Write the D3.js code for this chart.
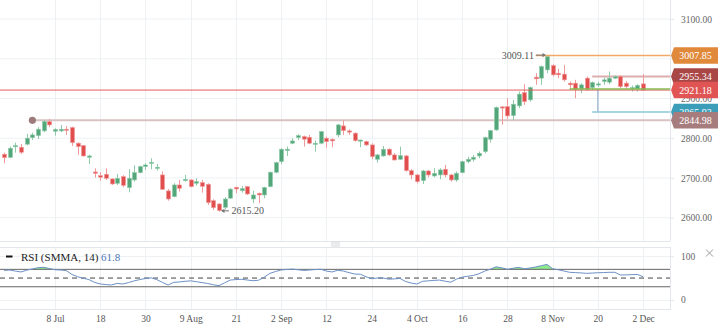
<!DOCTYPE html>
<html><head><meta charset="utf-8">
<script src="https://cdn.jsdelivr.net/npm/d3@7"></script>
<style>
html,body{margin:0;padding:0;background:#fff;}
svg{display:block;font-family:"Liberation Serif","Times New Roman",serif;}
</style></head><body>
<svg id="c" width="719" height="327"></svg>
<script>
// ---------------- data ----------------
const opens=[2759.7,2752,2778.5,2777.3,2785,2801.5,2806.5,2818.4,2841.8,2817.6,
2818.4,2822.7,2826.7,2787.4,2781.4,2752.1,2715.1,2705.8,2709.3,2697.5,
2686.6,2703.3,2675.6,2695,2713.4,2728.5,2737,2724.4,2707.6,2667.3,
2652.9,2682.4,2693.2,2695,2686.6,2688.2,2684.1,2642.8,2634.5,2626.2,
2649.2,2676.6,2668,2678.1,2647.1,2661.5,2657.2,2678.1,2714.4,2741,
2768.8,2787.4,2801.5,2804,2802.5,2784.9,2787.4,2800,2797,2808.3,
2831,2818.4,2812.6,2793.5,2791.4,2783.1,2747,2755.4,2772.3,2758,
2747,2755.4,2718.4,2707.6,2693.2,2717.6,2705,2707.6,2722,2707.6,
2695,2713.4,2741,2747,2755.4,2766.5,2797.5,2821,2878.8,2879.6,
2856.9,2881.4,2914.9,2896.5,2953.7,2951.1,2972,2982.9,2963.7,2961.2,
2938.5,2938.5,2924.2,2951.1,2927.5,2934.3,2942.6,2941,2951.1,2955.2,
2938.5,2924.2,2924.2,2936.8];
const highs=[2763.7,2778.8,2788.9,2785.6,2811,2814,2827.7,2846,2848.6,2825.2,
2833.5,2831,2829.2,2789.9,2783.1,2758,2724.4,2714.4,2724.4,2699.2,
2710.1,2706.8,2721.9,2732,2731,2737,2749.6,2735.3,2716.3,2672.3,
2686.6,2695,2707.6,2696.7,2699.2,2695,2686.6,2646.3,2636.6,2651.4,
2674.4,2678.1,2679.8,2679.8,2668,2663,2678.1,2716,2741,2774.8,
2778.8,2800,2810,2806.5,2808.3,2794.3,2818.4,2804,2800,2836,
2844.3,2822.7,2815.1,2796,2794,2787.4,2760.5,2780.6,2774.8,2762.2,
2778.8,2758,2722.6,2710,2720.2,2720.2,2724.4,2724.4,2732.7,2710,
2716.3,2743.6,2753.7,2758,2766.5,2804,2820.9,2879.6,2881,2900.8,
2896.5,2917.4,2936,2930,2963.7,2982.9,3009.11,2986.4,2974.6,2984.6,
2942.6,2946.9,2938.5,2955.2,2942.6,2941.9,2952.7,2968,2957.7,2957.7,
2944.3,2932.8,2936,2961.2];
const lows=[2737,2749.6,2763.7,2760.4,2782,2795.7,2798,2815,2827.7,2806.5,
2815,2808.3,2780.6,2758,2753.7,2735.3,2700.8,2693.2,2695,2682.4,
2682.4,2676.6,2664,2690.7,2711.8,2720,2721.9,2718.8,2669.8,2642.8,
2651.4,2665.5,2690.7,2676.6,2680.9,2663,2632,2619.4,2615.2,2621,
2647.1,2661.5,2663,2657.2,2636.6,2636.6,2649.2,2676.6,2711.8,2734.5,
2755.4,2784.9,2795.7,2778.8,2784.9,2766,2784.9,2776.3,2777.3,2802.5,
2808.3,2808.3,2791.4,2777.3,2780.6,2747,2738.5,2753.7,2755.4,2743.6,
2745.3,2716,2696.7,2686.6,2684.9,2701.8,2701.8,2696.7,2701.8,2690.7,
2690.7,2711.8,2737,2741,2749.6,2762.2,2789,2818.4,2834,2848.6,
2846,2875.6,2883.9,2892.2,2934.3,2934.3,2963.7,2955.2,2951.1,2942.6,
2921.7,2900.8,2913.4,2919,2921.7,2929,2934.3,2936,2949.4,2926,
2924.2,2917.4,2917.4,2921.18];
const closes=[2751,2774.8,2781.5,2764.7,2800,2808.3,2822.7,2841.8,2833.5,2821.7,
2822.7,2820.2,2788.9,2778.8,2755.4,2755.4,2711.8,2701.8,2699.2,2684.9,
2699.2,2681.6,2699.2,2713.4,2728.5,2732.7,2739.5,2727,2671.5,2647.1,
2682.4,2674,2696.7,2678.1,2690.7,2679,2637.8,2625.2,2618,2647.1,
2671.9,2672.3,2673,2659.7,2657.2,2657.2,2675.6,2714.4,2738.5,2772.3,
2772.3,2793.2,2806.5,2797.5,2787.4,2787.4,2816.6,2791.4,2793.2,2833.5,
2819.1,2815.1,2794,2795.5,2783.1,2753.7,2758,2772.3,2758,2745.3,
2756.2,2718.4,2707.6,2690.7,2717.6,2707.6,2711.8,2720.2,2707.6,2695,
2711.8,2741,2747,2752.1,2762.2,2801.5,2819.1,2877,2876.5,2856.2,
2885.6,2910.8,2892.2,2927.5,2949.4,2980.4,3005.5,2959.5,2959.5,2946.9,
2934.3,2923.4,2934.3,2923.4,2940.1,2936.8,2946.9,2951.1,2955.2,2930,
2930,2927.5,2932.8,2921.18];
const rsiValues=[67.5,68.4,66,64,68,71,73.8,74.6,72,69,
68.5,67,58.3,53,49.5,46.5,40,36.5,35,34,
37.8,36.3,39.5,43.5,46.5,49,50.5,46.5,40,34,
40.2,41,42.5,43.6,41.6,39.5,37.5,34.5,32.5,39,
45.4,46.5,47.2,45.5,43.8,45,52,60.8,65,68.6,
69.8,70.6,69,67.5,68.5,69.5,70.2,66,64,68,
66,62.5,59.2,58.8,53,48.5,50,50.2,47.5,48,
49.3,42,38.5,36.2,42.5,43.6,44.6,45.4,42.7,40.5,
47.5,52,54.2,56,60,66,70.5,75.8,73.5,70.2,
72.5,74.5,71.5,73,75.5,78.5,81.3,71.5,69,66.2,
63.2,62.5,61.8,60.8,61.5,62.2,62.6,63.2,63.2,57,
57.3,57.8,58.3,53];
const tickIndex=[9,17,25,33,41,49,57,65,73,81,89,97,105,113];
const tickLabels=["8 Jul","18","30","9 Aug","21","2 Sep","12","24","4 Oct","16","28","8 Nov","20","2 Dec"];
const priceTicks=[2600,2700,2800,2900,3000,3100];
const rsiTicks=[0,100];
const rsiBands=[30,50,70];
// horizontal price levels (value, label, start candle index)
const levelValues=[3007.85,2955.34,2921.18,2865.93,2844.98];
const levelStarts=[94,104,0,104,5];
const greenLevel=2924, greenStart=100;
const highMark={index:96,value:3009.11,label:"3009.11"};
const lowMark={index:38,value:2615.20,label:"2615.20"};
const rsiLegend="RSI (SMMA, 14)", rsiLast="61.8";

// ---------------- layout ----------------
const svg=d3.select("#c");
const W=670, mainBottom=241, rsiTop=247, rsiBottom=309;
const x=d3.scaleLinear().domain([0,opens.length-1]).range([4.1,643.1]);
const y=d3.scaleLinear().domain([2600,3100]).range([217.7,19]);
const yr=d3.scaleLinear().domain([0,100]).range([299.8,256.3]);
const gridC="#eef1f3", borderC="#e3e6ea", textC="#666";

svg.append("rect").attr("width",719).attr("height",327).attr("fill","#fff");
const defs=svg.append("defs");
defs.append("clipPath").attr("id","cm").append("rect").attr("x",0).attr("y",0).attr("width",W).attr("height",mainBottom);
defs.append("clipPath").attr("id","cr").append("rect").attr("x",0).attr("y",rsiTop).attr("width",W).attr("height",rsiBottom-rsiTop);

// grid
const g=svg.append("g");
g.selectAll(".hg").data(priceTicks).join("line").attr("x1",0).attr("x2",W)
 .attr("y1",d=>y(d)).attr("y2",d=>y(d)).attr("stroke",gridC);
g.selectAll(".vg").data(tickIndex).join("line").attr("x1",d=>Math.round(x(d))+.5).attr("x2",d=>Math.round(x(d))+.5)
 .attr("y1",0).attr("y2",mainBottom).attr("stroke",gridC);
g.selectAll(".vg2").data(tickIndex).join("line").attr("x1",d=>Math.round(x(d))+.5).attr("x2",d=>Math.round(x(d))+.5)
 .attr("y1",rsiTop).attr("y2",rsiBottom).attr("stroke",gridC);
g.selectAll(".rg").data(rsiTicks).join("line").attr("x1",0).attr("x2",W)
 .attr("y1",d=>Math.round(yr(d))+.5).attr("y2",d=>Math.round(yr(d))+.5).attr("stroke",gridC);
// borders
g.append("line").attr("x1",W+.5).attr("x2",W+.5).attr("y1",0).attr("y2",mainBottom).attr("stroke",borderC);
g.append("line").attr("x1",0).attr("x2",W).attr("y1",mainBottom+.5).attr("y2",mainBottom+.5).attr("stroke",borderC);
g.append("rect").attr("x",-1).attr("y",rsiTop+.5).attr("width",W+1.5).attr("height",rsiBottom-rsiTop).attr("fill","none").attr("stroke",borderC);
// handle
[242.5,244.5,246.5].forEach(v=>g.append("line").attr("x1",331).attr("x2",340).attr("y1",v-.5).attr("y2",v-.5).attr("stroke","#d4d7db"));

// price axis
const pa=svg.append("g").attr("transform",`translate(${W},0)`)
 .call(d3.axisRight(y).tickValues(priceTicks).tickFormat(d3.format(".2f")).tickSize(4).tickPadding(7));
pa.select(".domain").remove();
pa.selectAll("line").attr("stroke",borderC);
pa.selectAll("text").attr("font-family","Liberation Serif").attr("font-size",9.5).attr("fill",textC);
pa.attr("font-family",null);

// rsi axis
const ra=svg.append("g").attr("transform",`translate(${W},0)`)
 .call(d3.axisRight(yr).tickValues(rsiTicks).tickFormat(d3.format("d")).tickSize(4).tickPadding(7));
ra.select(".domain").remove();
ra.selectAll("line").attr("stroke",borderC);
ra.selectAll("text").attr("font-family","Liberation Serif").attr("font-size",9.5).attr("fill",textC);

// x axis
const xa=svg.append("g").attr("transform",`translate(0,${rsiBottom})`)
 .call(d3.axisBottom(x).tickValues(tickIndex).tickFormat((d,i)=>tickLabels[i]).tickSize(0).tickPadding(6));
xa.select(".domain").remove();
xa.selectAll("text").attr("font-family","Liberation Serif").attr("font-size",9.5).attr("fill","#555");

// ---------------- main panel ----------------
const mp=svg.append("g").attr("clip-path","url(#cm)");
// level lines
const lineCols=["#f2a866","#dcaeae","#e25c5c","#a6d6e3","#d9c2c2"];
const lineW=[1.5,2,1,2,2];
// 2844.98 line + circle first
mp.append("line").attr("x1",x(levelStarts[4])).attr("x2",W).attr("y1",y(levelValues[4])).attr("y2",y(levelValues[4]))
 .attr("stroke",lineCols[4]).attr("stroke-width",lineW[4]);
mp.append("line").attr("x1",x(levelStarts[3])).attr("x2",W).attr("y1",y(levelValues[3])).attr("y2",y(levelValues[3]))
 .attr("stroke",lineCols[3]).attr("stroke-width",lineW[3]);
mp.append("line").attr("x1",x(levelStarts[1])).attr("x2",W).attr("y1",y(levelValues[1])).attr("y2",y(levelValues[1]))
 .attr("stroke",lineCols[1]).attr("stroke-width",lineW[1]);
// vertical range line
mp.append("line").attr("x1",x(levelStarts[3]+1)).attr("x2",x(levelStarts[3]+1))
 .attr("y1",y(greenLevel)).attr("y2",y(levelValues[3])).attr("stroke","#a9bdd6").attr("stroke-width",1.5);

// candles
const cg=mp.append("g");
const idx=d3.range(opens.length);
const up=i=>closes[i]>=opens[i];
cg.selectAll(".w").data(idx).join("line")
 .attr("x1",i=>Math.round(x(i))+.5).attr("x2",i=>Math.round(x(i))+.5)
 .attr("y1",i=>y(highs[i])).attr("y2",i=>y(lows[i]))
 .attr("stroke",i=>up(i)?"#8fcaa9":"#f09a9a").attr("stroke-width",1);
cg.selectAll(".b").data(idx).join("rect")
 .attr("x",i=>Math.round(x(i))-1.5).attr("width",4)
 .attr("y",i=>y(Math.max(opens[i],closes[i])))
 .attr("height",i=>Math.max(1.2,Math.abs(y(opens[i])-y(closes[i]))))
 .attr("fill",i=>up(i)?"#52a679":"#e04e4e")
 .attr("stroke",i=>up(i)?"#8fcaa9":"#f09a9a").attr("stroke-width",0.6);

// remaining lines on top
mp.append("line").attr("x1",0).attr("x2",W).attr("y1",y(levelValues[2])).attr("y2",y(levelValues[2]))
 .attr("stroke",lineCols[2]).attr("stroke-width",lineW[2]);
mp.append("line").attr("x1",x(greenStart)).attr("x2",W).attr("y1",y(greenLevel)).attr("y2",y(greenLevel))
 .attr("stroke","#86bd52").attr("stroke-width",1.5);
mp.append("line").attr("x1",x(levelStarts[0])).attr("x2",W).attr("y1",y(levelValues[0])).attr("y2",y(levelValues[0]))
 .attr("stroke",lineCols[0]).attr("stroke-width",lineW[0]);
mp.append("circle").attr("cx",x(levelStarts[4])).attr("cy",y(levelValues[4])).attr("r",3.6).attr("fill","#9d7b7b");

// high / low annotations
const annC="#777";
const hx=x(highMark.index), hy=y(highMark.value);
mp.append("line").attr("x1",hx-11).attr("x2",hx-2).attr("y1",hy).attr("y2",hy).attr("stroke",annC);
mp.append("path").attr("d",`M${hx-1},${hy} l-3.5,-2.2 l0,4.4 z`).attr("fill",annC);
mp.append("text").attr("x",hx-13).attr("y",hy+3.6).attr("text-anchor","end").attr("font-size",10).attr("fill","#555").text(highMark.label);
const lx=x(lowMark.index), ly=y(lowMark.value);
mp.append("line").attr("x1",lx+3).attr("x2",lx+10).attr("y1",ly-0.8).attr("y2",ly-0.8).attr("stroke",annC);
mp.append("path").attr("d",`M${lx+2},${ly-0.8} l3.5,-2.2 l0,4.4 z`).attr("fill",annC);
mp.append("text").attr("x",lx+12.5).attr("y",ly+2.8).attr("font-size",10).attr("fill","#555").text(lowMark.label);

// price label boxes
const boxCols=["#e0893b","#a94747","#e05454","#3b9db7","#a77c7c"];
const order=[0,1,2,3,4];
order.forEach(k=>{
  const cy=y(levelValues[k]);
  const h=16.5;
  svg.append("path").attr("d",`M${W+1},${cy} L${W+4},${cy-h/2} L718,${cy-h/2} L718,${cy+h/2} L${W+4},${cy+h/2} Z`)
   .attr("fill",boxCols[k]);
  svg.append("text").attr("x",695.5).attr("y",cy+3.6).attr("text-anchor","middle").attr("font-size",10)
   .attr("fill","#fff").text(d3.format(".2f")(levelValues[k]));
});

// ---------------- RSI panel ----------------
const rp=svg.append("g").attr("clip-path","url(#cr)");
rp.append("path").datum(idx).attr("fill","#8fea8f")
 .attr("d",d3.area().x(i=>x(i)).y0(yr(70)).y1(i=>yr(Math.max(70,rsiValues[i]))));
rsiBands.forEach(b=>{
  rp.append("line").attr("x1",0).attr("x2",W).attr("y1",yr(b)).attr("y2",yr(b))
   .attr("stroke",b===50?"#444":"#666").attr("stroke-width",1)
   .attr("stroke-dasharray",b===50?"5,4":null);
});
rp.append("path").datum(idx).attr("fill","none").attr("stroke","#6d90c6").attr("stroke-width",1)
 .attr("d",d3.line().x(i=>x(i)).y(i=>yr(rsiValues[i])));

// legend
svg.append("line").attr("x1",6).attr("x2",12.5).attr("y1",256.5).attr("y2",256.5).attr("stroke","#111").attr("stroke-width",2);
svg.append("text").attr("x",21).attr("y",260.5).attr("font-size",11).attr("fill","#222").text(rsiLegend);
svg.append("text").attr("x",101).attr("y",260.5).attr("font-size",11).attr("fill","#4c78b6").text(rsiLast);
// close icon
svg.append("path").attr("d","M706,249.5 L713,256.5 M713,249.5 L706,256.5").attr("stroke","#999").attr("stroke-width",1);
</script>
</body></html>
